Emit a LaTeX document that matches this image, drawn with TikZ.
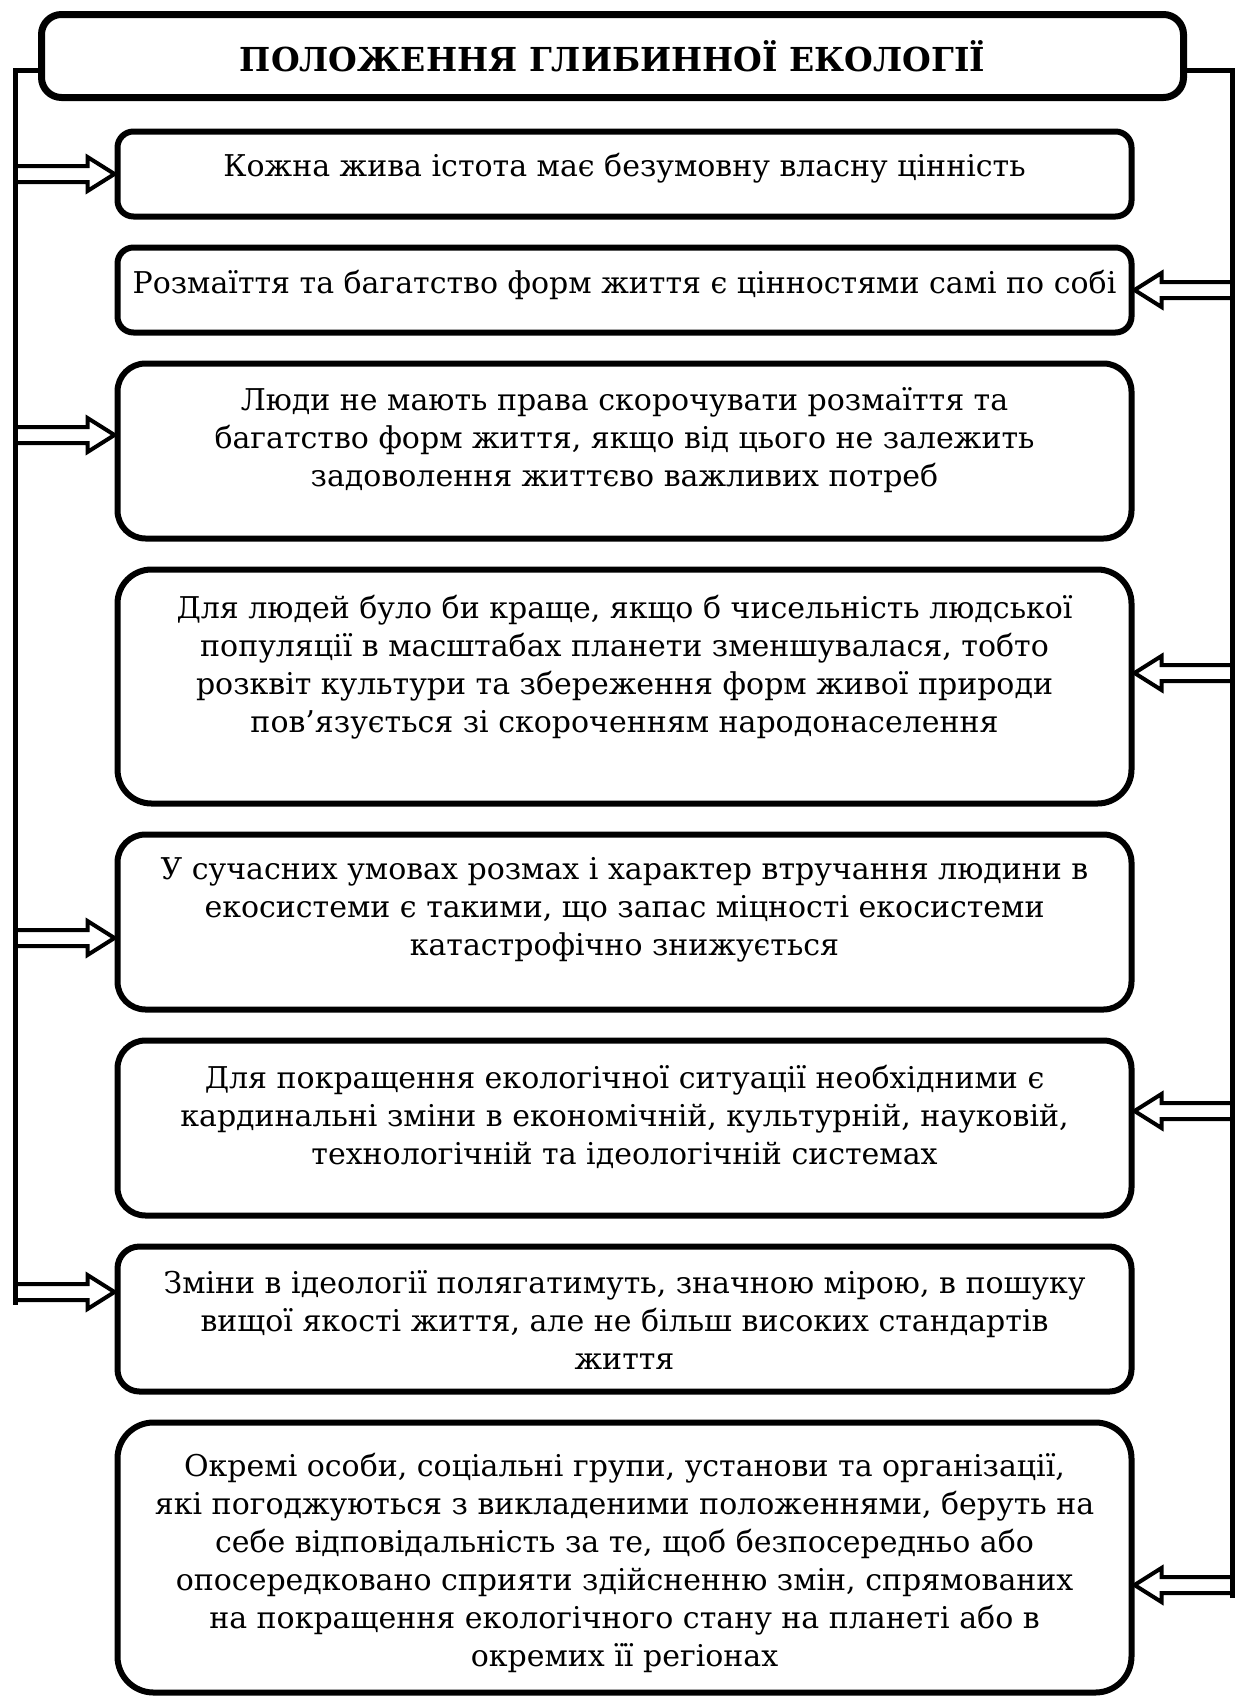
\documentclass[tikz,border=0pt]{standalone}
\usepackage{fontspec}
\setmainfont{DejaVu Serif}
\usetikzlibrary{positioning, calc}

\begin{document}
\begin{tikzpicture}[
    x=0.5pt, y=-0.5pt,
    node distance=12.5pt,
    headbox/.style={rectangle, draw, line width=3.5pt, rounded corners=10pt, minimum width=571pt, minimum height=41.5pt, font=\fontsize{16.5}{20}\selectfont\bfseries},
    box/.style={rectangle, draw, line width=3pt, rounded corners=#1, minimum width=507pt, inner sep=0pt},
    box/.default=8pt,
    boxtext/.style={align=center, inner sep=0pt, font=\fontsize{15}{19}\selectfont},
    spine/.style={line width=2.5pt},
    blockarrow/.style={line width=2pt, line join=miter, to path={
        let \p1=(\tikztostart), \p2=(\tikztotarget), \n1={sign(\x2-\x1)} in
        (\x1,{\y2+4pt}) -- ({\x2-(\n1)*13.5pt},{\y2+4pt}) -- ({\x2-(\n1)*13.5pt},{\y2+8.5pt})
        -- (\x2,\y2) -- ({\x2-(\n1)*13.5pt},{\y2-8.5pt}) -- ({\x2-(\n1)*13.5pt},{\y2-4pt}) -- (\x1,{\y2-4pt})}}
]
\useasboundingbox (0,0) rectangle (1236,1697);

% Title
\node[headbox] (title) at (612.5,56) {ПОЛОЖЕННЯ ГЛИБИННОЇ ЕКОЛОГІЇ};

% Boxes
\node[box=8pt, minimum height=42.5pt] (b1) at (624.5,174) {};
\node[box=8pt, minimum height=42.5pt, below=of b1] (b2) {};
\node[box=14pt, minimum height=87.5pt, below=of b2] (b3) {};
\node[box=17pt, minimum height=117pt, below=of b3] (b4) {};
\node[box=14pt, minimum height=87.5pt, below=of b4] (b5) {};
\node[box=14pt, minimum height=87.5pt, below=of b5] (b6) {};
\node[box=11pt, minimum height=72.5pt, below=of b6] (b7) {};
\node[box=18pt, minimum height=135pt, below=of b7] (b8) {};

% Texts
\node[boxtext, below=12pt of b1.north] (t1) {Кожна жива істота має безумовну власну цінність};
\node[boxtext, below=12.5pt of b2.north] (t2) {Розмаїття та багатство форм життя є цінностями самі по собі};
\node[boxtext, below=13.5pt of b3.north] (t3) {Люди не мають права скорочувати розмаїття та\\
    багатство форм життя, якщо від цього не залежить\\
    задоволення життєво важливих потреб};
\node[boxtext, below=14pt of b4.north] (t4) {Для людей було би краще, якщо б чисельність людської\\
    популяції в масштабах планети зменшувалася, тобто\\
    розквіт культури та збереження форм живої природи\\
    пов’язується зі скороченням народонаселення};
\node[boxtext, below=13pt of b5.north] (t5) {У сучасних умовах розмах і характер втручання людини в\\
    екосистеми є такими, що запас міцності екосистеми\\
    катастрофічно знижується};
\node[boxtext, below=13.5pt of b6.north] (t6) {Для покращення екологічної ситуації необхідними є\\
    кардинальні зміни в економічній, культурній, науковій,\\
    технологічній та ідеологічній системах};
\node[boxtext, below=13.5pt of b7.north] (t7) {Зміни в ідеології полягатимуть, значною мірою, в пошуку\\
    вищої якості життя, але не більш високих стандартів\\
    життя};
\node[boxtext, below=16.5pt of b8.north] (t8) {Окремі особи, соціальні групи, установи та організації,\\
    які погоджуються з викладеними положеннями, беруть на\\
    себе відповідальність за те, щоб безпосередньо або\\
    опосередковано сприяти здійсненню змін, спрямованих\\
    на покращення екологічного стану на планеті або в\\
    окремих її регіонах};

% Spines
\coordinate (lbot) at (15,1305);
\coordinate (rbot) at (1232,1598);
\draw[spine] ([yshift=-7pt]title.west) -| (lbot);
\draw[spine] ([yshift=-7pt]title.east) -| (rbot);

% Arrows
\coordinate (a1) at (b1.west);
\coordinate (a2) at (b2.east);
\coordinate (a3) at ([yshift=8pt]b3.west);
\coordinate (a4) at ([yshift=6.75pt]b4.east);
\coordinate (a5) at ([yshift=-8pt]b5.west);
\coordinate (a6) at ([yshift=8.5pt]b6.east);
\coordinate (a7) at ([yshift=13.5pt]b7.west);
\coordinate (a8) at ([yshift=-13.75pt]b8.east);

\draw[blockarrow] (lbot |- a1) to (a1);
\draw[blockarrow] (rbot |- a2) to (a2);
\draw[blockarrow] (lbot |- a3) to (a3);
\draw[blockarrow] (rbot |- a4) to (a4);
\draw[blockarrow] (lbot |- a5) to (a5);
\draw[blockarrow] (rbot |- a6) to (a6);
\draw[blockarrow] (lbot |- a7) to (a7);
\draw[blockarrow] (rbot |- a8) to (a8);

\end{tikzpicture}
\end{document}
